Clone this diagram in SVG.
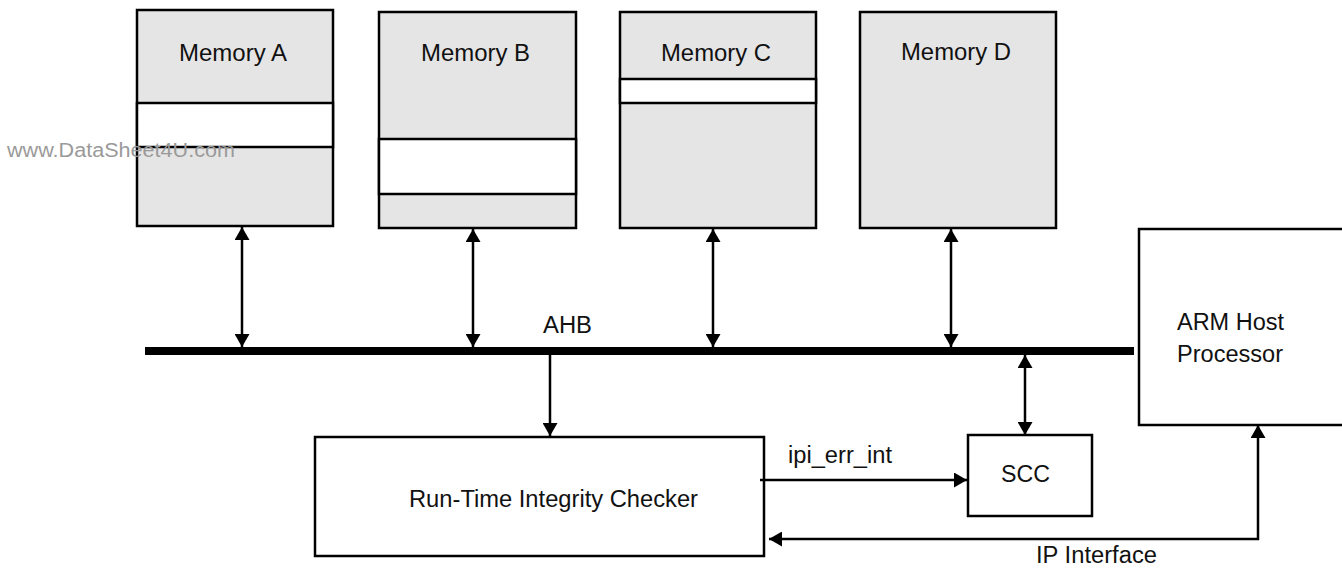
<svg xmlns="http://www.w3.org/2000/svg" width="1342" height="569" viewBox="0 0 1342 569">
  <style>
    .mem { fill: #e5e5e5; stroke: #000; stroke-width: 2.5; }
    .box { fill: #fff; stroke: #000; stroke-width: 2.5; }
    .band { fill: #fff; stroke: #000; stroke-width: 2.5; }
    .lbl { font-family: "Liberation Sans", Arial, Helvetica, sans-serif; font-size: 23px; fill: #111; }
    .wm { font-family: "Liberation Sans", Arial, Helvetica, sans-serif; font-size: 20px; fill: #9a9a9a; }
    .conn { stroke: #000; stroke-width: 2.5; fill: none; }
    .bus { stroke: #000; stroke-width: 8; fill: none; }
  </style>
  <defs>
    <marker id="ah" markerUnits="userSpaceOnUse" markerWidth="14" markerHeight="15" refX="13" refY="7.5" orient="auto-start-reverse">
      <path d="M0,0 L13,7.5 L0,15 z" fill="#000"/>
    </marker>
  </defs>

  <g id="memA">
    <rect class="mem" x="137" y="10" width="196" height="216"/>
    <rect class="band" x="137" y="103" width="196" height="44"/>
    <text class="lbl" x="233" y="61" text-anchor="middle" textLength="108" lengthAdjust="spacingAndGlyphs">Memory A</text>
  </g>
  <g id="memB">
    <rect class="mem" x="379" y="12" width="197" height="216"/>
    <rect class="band" x="379" y="139" width="197" height="55"/>
    <text class="lbl" x="475.5" y="61" text-anchor="middle" textLength="109" lengthAdjust="spacingAndGlyphs">Memory B</text>
  </g>
  <g id="memC">
    <rect class="mem" x="620" y="12" width="196" height="216"/>
    <rect class="band" x="620" y="79" width="196" height="24"/>
    <text class="lbl" x="716" y="61" text-anchor="middle" textLength="110" lengthAdjust="spacingAndGlyphs">Memory C</text>
  </g>
  <g id="memD">
    <rect class="mem" x="860" y="12" width="196" height="216"/>
    <text class="lbl" x="956" y="60" text-anchor="middle" textLength="110" lengthAdjust="spacingAndGlyphs">Memory D</text>
  </g>
  <g id="arm">
    <rect class="box" x="1139" y="229" width="210" height="196"/>
    <text class="lbl" x="1177" y="330" textLength="107" lengthAdjust="spacingAndGlyphs">ARM Host</text>
    <text class="lbl" x="1177" y="362" textLength="106" lengthAdjust="spacingAndGlyphs">Processor</text>
  </g>
  <g id="rtic">
    <rect class="box" x="315" y="437" width="449" height="119"/>
    <text class="lbl" x="409" y="507" textLength="289" lengthAdjust="spacingAndGlyphs">Run-Time Integrity Checker</text>
  </g>
  <g id="scc">
    <rect class="box" x="968" y="435" width="124" height="81"/>
    <text class="lbl" x="1001" y="482" textLength="49" lengthAdjust="spacingAndGlyphs">SCC</text>
  </g>

  <g id="connectors">
    <line class="bus" x1="145" y1="351" x2="1134" y2="351"/>
    <text class="lbl" x="543" y="333" textLength="49" lengthAdjust="spacingAndGlyphs">AHB</text>
    <line class="conn" x1="242" y1="227" x2="242" y2="347" marker-start="url(#ah)" marker-end="url(#ah)"/>
    <line class="conn" x1="473" y1="229" x2="473" y2="347" marker-start="url(#ah)" marker-end="url(#ah)"/>
    <line class="conn" x1="713" y1="229" x2="713" y2="347" marker-start="url(#ah)" marker-end="url(#ah)"/>
    <line class="conn" x1="951" y1="229" x2="951" y2="347" marker-start="url(#ah)" marker-end="url(#ah)"/>
    <line class="conn" x1="550" y1="355" x2="550" y2="436" marker-end="url(#ah)"/>
    <line class="conn" x1="1025" y1="355" x2="1025" y2="435" marker-start="url(#ah)" marker-end="url(#ah)"/>
    <line class="conn" x1="760" y1="480" x2="967" y2="480" marker-end="url(#ah)"/>
    <text class="lbl" x="788" y="463" textLength="104" lengthAdjust="spacingAndGlyphs">ipi_err_int</text>
    <polyline class="conn" points="769,539 1258,539 1258,425" marker-start="url(#ah)" marker-end="url(#ah)"/>
    <text class="lbl" x="1036" y="563" textLength="121" lengthAdjust="spacingAndGlyphs">IP Interface</text>
  </g>

  <text class="wm" x="7" y="157" textLength="228" lengthAdjust="spacingAndGlyphs">www.DataSheet4U.com</text>
</svg>
